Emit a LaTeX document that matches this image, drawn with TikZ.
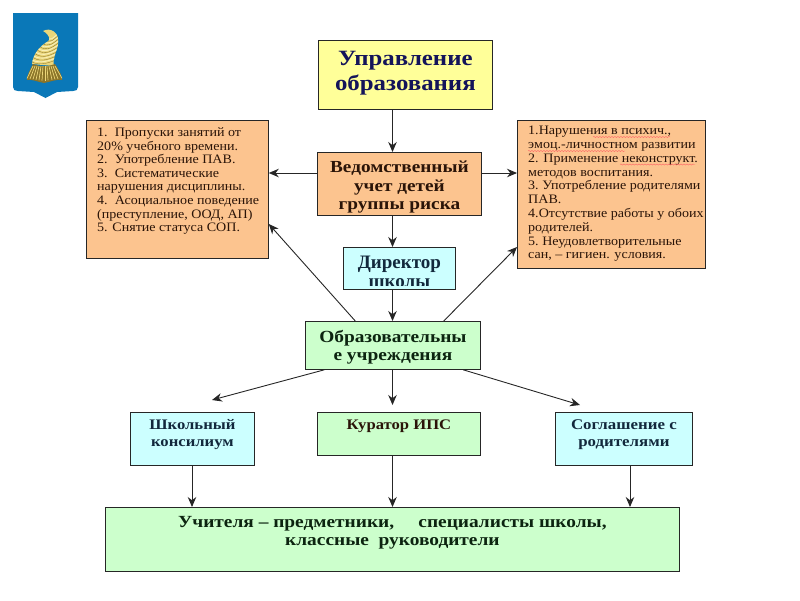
\documentclass[tikz,border=0pt]{standalone}
\usepackage{fontspec}
\setmainfont{Liberation Serif}
\newfontfamily\widefont[FakeStretch=1.14]{Liberation Serif}
\newfontfamily\listfont[FakeStretch=1.09]{Liberation Serif}
\usetikzlibrary{arrows.meta,calc,decorations.pathmorphing}
\definecolor{cyellow}{HTML}{FFFF99}
\definecolor{corange}{HTML}{FCC48F}
\definecolor{ccyan}{HTML}{CCFFFF}
\definecolor{cgreen}{HTML}{CCFFCC}
\definecolor{cink}{HTML}{262626}
\definecolor{cnavy}{HTML}{14145A}
\definecolor{cteal}{HTML}{12283C}
\definecolor{cdgreen}{HTML}{0C2410}
\definecolor{cbrown}{HTML}{2A1408}
\definecolor{cblue}{HTML}{0A78B8}
\definecolor{cgold}{HTML}{EBD67A}
\definecolor{cgolddark}{HTML}{8A7428}
\definecolor{cgoldlight}{HTML}{F8EFB8}
\tikzset{
  boxbase/.style={draw=cink,line width=0.8pt,anchor=north west,inner sep=0pt},
  boxtext/.style={anchor=north,inner sep=0pt,align=center,font=\widefont\bfseries},
  listtext/.style={anchor=north west,inner sep=0pt,align=left,text=cbrown},
  link/.style={draw=cink,line width=0.9pt,-{Stealth[length=10pt,width=8.5pt]}},
  squig/.style={draw=red!60!white,line width=0.4pt,decorate,decoration={snake,amplitude=0.6pt,segment length=3pt}},
}
\begin{document}
\begin{tikzpicture}[x=1pt,y=-1pt]
\useasboundingbox (0,0) rectangle (800,600);
% emblem
\fill[cblue] (13,13) -- (78,13) -- (78,87) .. controls (78,90) and (76,91) .. (73,91) -- (57,92) -- (45.5,98) -- (34,92) -- (18,91) .. controls (15,91) and (13,90) .. (13,87) -- cycle;
\begin{scope}
\clip (32,64) .. controls (33,54) and (40,46) .. (47,42) .. controls (51,40) and (50,35) .. (43,31) .. controls (50,27) and (60,32) .. (58,44) .. controls (57,52) and (52,58) .. (54,66) -- cycle;
\fill[cgold] (28,25) rectangle (62,68);
\foreach \k in {0,...,6}{
  \draw[cgolddark,line width=0.35pt] ({32+\k*1.7},{62-\k*4}) .. controls ({40+\k*1.7},{66-\k*3.4}) and ({50+\k*0.6},{63-\k*4}) .. ({60},{58-\k*4});
  \draw[cgoldlight,line width=0.9pt] ({32+\k*1.7},{60-\k*4}) .. controls ({40+\k*1.7},{64-\k*3.4}) and ({50+\k*0.6},{61-\k*4}) .. ({60},{56-\k*4});
}
\end{scope}
\fill[cgolddark] (33,64) .. controls (40,67) and (48,67) .. (55,64) .. controls (59,70) and (62,75) .. (62,80) .. controls (56,79) and (50,82) .. (44,83) .. controls (38,82) and (32,79) .. (27,80) .. controls (27,75) and (30,70) .. (33,64) -- cycle;
\foreach \a/\b in {33/27,35/30,37/33,39/36,41/39,43/42,45/45,47/48,49/52,51/55,53/58,55/62}{
  \draw[cgold,line width=0.7pt] (\a,66) -- (\b,{81-abs(\b-44)*0.15});
}
% boxes
\node[boxbase,fill=cyellow,minimum width=174pt,minimum height=69pt] (head) at (318,40) {};
\node[boxbase,fill=corange,minimum width=164pt,minimum height=63pt] (ved) at (317,152) {};
\node[boxbase,fill=corange,minimum width=182pt,minimum height=138pt] (left) at (86,120) {};
\node[boxbase,fill=corange,minimum width=188pt,minimum height=148pt] (right) at (517,120) {};
\node[boxbase,fill=ccyan,minimum width=112pt,minimum height=42pt] (dir) at (343,247) {};
\node[boxbase,fill=cgreen,minimum width=175pt,minimum height=48pt] (obr) at (305,321) {};
\node[boxbase,fill=ccyan,minimum width=124pt,minimum height=53pt] (kons) at (130,412) {};
\node[boxbase,fill=cgreen,minimum width=163pt,minimum height=43pt] (kur) at (317,412) {};
\node[boxbase,fill=ccyan,minimum width=137pt,minimum height=53pt] (sogl) at (555,412) {};
\node[boxbase,fill=cgreen,minimum width=574pt,minimum height=64pt] (uch) at (105,507) {};
% texts
\node[boxtext,text=cnavy,font=\widefont\bfseries\fontsize{21.8}{25.5}\selectfont] (theadt) at ($(head.north)+(0,11)$) {Управление\\образования};
\node[boxtext,text=cbrown,font=\widefont\bfseries\fontsize{16.9}{18.5}\selectfont] (tved) at ($(ved.north)+(0,9)$) {Ведомственный\\учет детей\\группы риска};
\node[listtext,font=\listfont\fontsize{12.9}{13.6}\selectfont] (tleft) at (97,127.5) {1.\ \ Пропуски занятий от\\20\% учебного времени.\\2.\ \ Употребление ПАВ.\\3.\ \ Систематические\\нарушения дисциплины.\\4.\ \ Асоциальное поведение\\(преступление, ООД, АП)\\5. Снятие статуса СОП.};
\node[listtext,font=\listfont\fontsize{12.9}{13.8}\selectfont] (tright) at (528,126) {1.Нарушения в психич.,\\эмоц.-личностном развитии\\2. Применение неконструкт.\\методов воспитания.\\3.\ Употребление родителями\\ПАВ.\\4.Отсутствие работы у обоих\\родителей.\\5.\ Неудовлетворительные\\сан, – гигиен. условия.};
\begin{scope}
\clip (343,247) rectangle (455,285);
\node[boxtext,text=cteal,font=\bfseries\fontsize{19}{19}\selectfont] (tdir) at ($(dir.north)+(0,8.5)$) {Директор\\школы};
\end{scope}
\node[boxtext,text=cdgreen,font=\widefont\bfseries\fontsize{17}{18.5}\selectfont] (tobr) at ($(obr.north)+(0,9)$) {Образовательны\\е учреждения};
\node[boxtext,text=cteal,font=\widefont\bfseries\fontsize{14.6}{17}\selectfont] (tkons) at ($(kons.north)+(0,7)$) {Школьный\\консилиум};
\node[boxtext,text=cbrown,font=\widefont\bfseries\fontsize{14.6}{17}\selectfont] (tkur) at ($(kur.north)+(0,8)$) {Куратор ИПС};
\node[boxtext,text=cteal,font=\widefont\bfseries\fontsize{14.8}{17}\selectfont] (tsogl) at ($(sogl.north)+(0,7)$) {Соглашение с\\родителями};
\node[boxtext,text=cdgreen,font=\widefont\bfseries\fontsize{17}{18.5}\selectfont] (tuch) at ($(uch.north)+(0,9)$) {Учителя – предметники,\ \ \ \ \ специалисты школы,\\классные\ \ руководители};
% connector guides
\coordinate (cx) at (392.5,0);
\coordinate (ky) at (0,173);
\coordinate (lx2) at (0,224);
\coordinate (rx2) at (0,247);
\coordinate (ol) at ($(obr.north west)!0.286!(obr.north east)$);
\coordinate (or) at ($(obr.north west)!0.789!(obr.north east)$);
\coordinate (obl) at ($(obr.south west)!0.11!(obr.south east)$);
\coordinate (obrr) at ($(obr.south west)!0.90!(obr.south east)$);
\coordinate (freel) at (212,400);
\coordinate (freer) at (580,405);
\coordinate (freek) at (392.5,405);
\coordinate (c1) at (192,0);
\coordinate (c3) at (630,0);
\draw[link] (head.south -| cx) -- (ved.north -| cx);
\draw[link] (ved.west |- ky) -- (left.east |- ky);
\draw[link] (ved.east |- ky) -- (right.west |- ky);
\draw[link] (ved.south -| cx) -- (dir.north -| cx);
\draw[link] (dir.south -| cx) -- (obr.north -| cx);
\draw[link] (ol) -- (left.east |- lx2);
\draw[link] (or) -- (right.west |- rx2);
\draw[link] (obl) -- (freel);
\draw[link] (obr.south -| cx) -- (freek);
\draw[link] (obrr) -- (freer);
\draw[link] (kons.south -| c1) -- (uch.north -| c1);
\draw[link] (kur.south -| cx) -- (uch.north -| cx);
\draw[link] (sogl.south -| c3) -- (uch.north -| c3);
% spell-check squiggles
\draw[squig] (593,137) -- (670,137);
\draw[squig] (528,151) -- (625,151);
\draw[squig] (620,164.5) -- (695,164.5);
\end{tikzpicture}
\end{document}
